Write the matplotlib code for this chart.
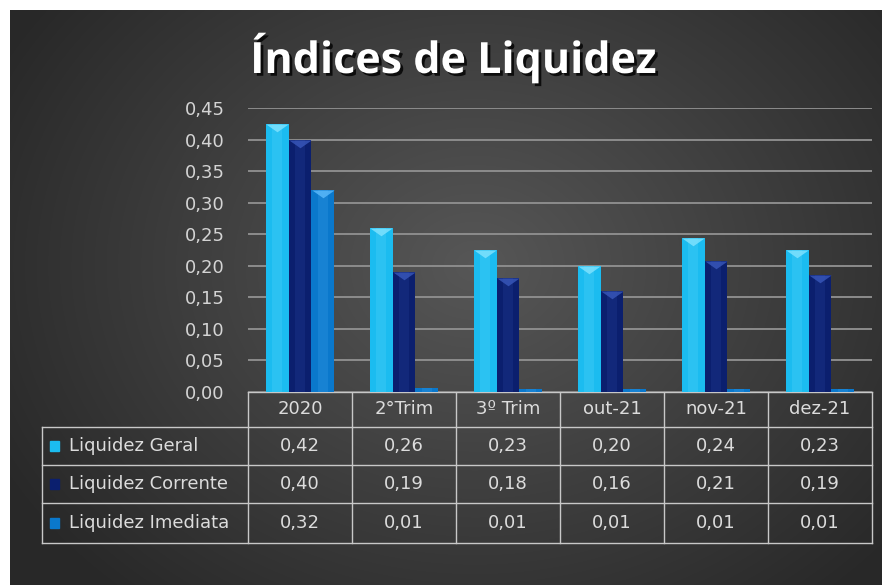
import matplotlib
matplotlib.use("Agg")
import matplotlib.pyplot as plt
import matplotlib.patheffects as pe
from matplotlib.path import Path
import numpy as np

matplotlib.rcParams['font.family'] = ['DejaVu Sans']

# data
categories = ["2020", "2°Trim", "3º Trim", "out-21", "nov-21", "dez-21"]
series_names = ["Liquidez Geral", "Liquidez Corrente", "Liquidez Imediata"]
geral = [0.424, 0.26, 0.225, 0.20, 0.244, 0.225]
corrente = [0.40, 0.19, 0.18, 0.16, 0.207, 0.186]
imediata = [0.32, 0.006, 0.005, 0.005, 0.005, 0.005]
yticks = [0.0, 0.05, 0.10, 0.15, 0.20, 0.25, 0.30, 0.35, 0.40, 0.45]

colors = ["#1bbcf0", "#0b1f6e", "#0a78cc"]
tops = ["#8ae6ff", "#3c5cc0", "#63bfff"]

W, H = 882, 585
fig = plt.figure(figsize=(W / 100, H / 100), dpi=100)
fig.patch.set_facecolor("white")

# background with radial gradient, in pixel coords
bg = fig.add_axes([0, 0, 1, 1])
bg.set_xlim(0, W)
bg.set_ylim(H, 0)
bg.axis("off")
yy, xx = np.mgrid[0:H, 0:W]
r = np.sqrt(((xx - 470) / 540.0) ** 2 + ((yy - 260) / 440.0) ** 2)
shade = np.clip(0.34 - 0.18 * r, 0.16, 0.34)
img = np.dstack([shade, shade, shade])
bg.imshow(img, extent=[10, W, H, 10], aspect="auto", zorder=0)

# title
bg.text(453, 58, "Índices de Liquidez", color="white", fontsize=31,
        fontweight="bold", family="Open Sans", ha="center", va="center", zorder=3,
        path_effects=[pe.withSimplePatchShadow(offset=(2, -2), shadow_rgbFace="black", alpha=0.8)])

# bar axes
x0, x1 = 248, 872
y_top, y_bot = 108, 392
ax = fig.add_axes([x0 / W, 1 - y_bot / H, (x1 - x0) / W, (y_bot - y_top) / H])
ax.patch.set_alpha(0)
ax.set_xlim(-0.5, len(categories) - 0.5)
ax.set_ylim(0, 0.45)
for s in ax.spines.values():
    s.set_visible(False)
ax.set_xticks([])
ax.set_yticks(yticks)
ax.set_yticklabels([("%.2f" % v).replace(".", ",") for v in yticks],
                   color="#d4d4d4", fontsize=13)
ax.tick_params(axis="y", length=0, pad=17)
ax.yaxis.grid(True, color="#8c8c8c", linewidth=1.4)
ax.set_axisbelow(True)

# flat triangle for the bevelled top of each bar
bevel = Path([(-1, 0), (1, 0), (0, -0.7), (-1, 0)],
             [Path.MOVETO, Path.LINETO, Path.LINETO, Path.CLOSEPOLY])

x = np.arange(len(categories))
bw = 0.22
all_series = [geral, corrente, imediata]
for i, vals in enumerate(all_series):
    xs = x + (i - 1) * bw
    ax.bar(xs, vals, width=bw, color=colors[i], zorder=2, linewidth=0)
    # lighter centre stripe for the bevel look
    ax.bar(xs, vals, width=bw * 0.45, color=tops[i], alpha=0.15, zorder=2, linewidth=0)
    big = [v > 0.05 for v in vals]
    ax.plot(xs[big], np.array(vals)[big], linestyle="none", marker=bevel,
            color=tops[i], markersize=16, alpha=0.75, markeredgewidth=0, zorder=3)

# data table drawn in pixel coords
lc = "#c8c8c8"
col_w = (x1 - x0) / len(categories)
row_y = [392, 427, 465, 503, 543]
bg.plot([x0, x1], [row_y[0], row_y[0]], color=lc, lw=1, zorder=3)
for ry in row_y[1:]:
    bg.plot([42, x1], [ry, ry], color=lc, lw=1, zorder=3)
for k in range(len(categories) + 1):
    bg.plot([x0 + k * col_w] * 2, [row_y[0], row_y[-1]], color=lc, lw=1, zorder=3)
bg.plot([42, 42], [row_y[1], row_y[-1]], color=lc, lw=1, zorder=3)

tc = "#dcdcdc"
for k, c in enumerate(categories):
    bg.text(x0 + (k + 0.5) * col_w, (row_y[0] + row_y[1]) / 2, c, color=tc,
            fontsize=13, ha="center", va="center", zorder=4)
for j, name in enumerate(series_names):
    cy = (row_y[j + 1] + row_y[j + 2]) / 2
    bg.add_patch(plt.Rectangle((50, cy - 5), 9, 10, color=colors[j], zorder=4))
    bg.text(69, cy, name, color=tc, fontsize=13, ha="left", va="center", zorder=4)
    for k, v in enumerate(all_series[j]):
        bg.text(x0 + (k + 0.5) * col_w, cy, ("%.2f" % v).replace(".", ","),
                color=tc, fontsize=13, ha="center", va="center", zorder=4)

fig.savefig("out.png", dpi=100, facecolor=fig.get_facecolor())
